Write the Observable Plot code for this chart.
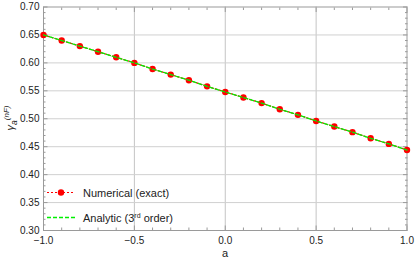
<!DOCTYPE html>
<html><head><meta charset="utf-8">
<script src="https://cdn.jsdelivr.net/npm/d3@7"></script>
<script src="https://cdn.jsdelivr.net/npm/@observablehq/plot@0.6"></script>
<style>body{margin:0;background:#fff}#chart{position:relative;width:415px;height:263px}</style>
</head><body><div id="chart"></div>
<script>
const aValues = [-1.0,-0.9,-0.8,-0.7,-0.6,-0.5,-0.4,-0.3,-0.2,-0.1,0.0,0.1,0.2,0.3,0.4,0.5,0.6,0.7,0.8,0.9,1.0];
const numerical = [0.650,0.640,0.630,0.620,0.610,0.600,0.589,0.579,0.569,0.558,0.548,0.538,0.528,0.517,0.507,0.496,0.486,0.476,0.465,0.455,0.444];
const analytic  = [0.650,0.640,0.630,0.620,0.610,0.600,0.589,0.579,0.569,0.558,0.548,0.538,0.528,0.517,0.507,0.496,0.486,0.476,0.465,0.455,0.444];
const xMajorTicks = [-1.0,-0.5,0.0,0.5,1.0];
const xMinorTicks = [-0.9,-0.8,-0.7,-0.6,-0.4,-0.3,-0.2,-0.1,0.1,0.2,0.3,0.4,0.6,0.7,0.8,0.9];
const yMajorTicks = [0.30,0.35,0.40,0.45,0.50,0.55,0.60,0.65,0.70];
const yMinorTicks = [0.31,0.32,0.33,0.34,0.36,0.37,0.38,0.39,0.41,0.42,0.43,0.44,0.46,0.47,0.48,0.49,0.51,0.52,0.53,0.54,0.56,0.57,0.58,0.59,0.61,0.62,0.63,0.64,0.66,0.67,0.68,0.69];
const xGrid = [-0.5,0.0,0.5];
const yGrid = [0.35,0.40,0.45,0.50,0.55,0.60,0.65];
const seriesNames = ["Numerical (exact)", "Analytic (3rd order)"];
const xLabel = "a";

const data = aValues.map((a,i) => ({a, num: numerical[i], ana: analytic[i]}));
const minus = s => s.replace("-", "\u2212");
const frameColor = "#9a9a9a";
const empty = () => "";
const green = "#00f000";
const red = "#ff0000";

const plot = Plot.plot({
  width: 415, height: 263,
  marginLeft: 43, marginRight: 8.5, marginTop: 6.5, marginBottom: 33,
  x: {domain: [-1, 1]},
  y: {domain: [0.3, 0.7]},
  style: {fontFamily: "'Liberation Sans', Arial, sans-serif", fontSize: "10px", color: "#222", background: "#fff"},
  marks: [
    Plot.gridX(xGrid, {stroke: "#c4c4c4", strokeOpacity: 1}),
    Plot.gridY(yGrid, {stroke: "#d0d0d0", strokeOpacity: 1}),
    Plot.frame({stroke: frameColor}),
    Plot.axisX(xMajorTicks, {anchor: "bottom", tickSize: 0, tickPadding: 6.5, tickFormat: d => minus(d.toFixed(1)), label: null, fill: "#222"}),
    Plot.axisY(yMajorTicks, {anchor: "left", tickSize: 0, tickPadding: 4, tickFormat: d => d.toFixed(2), label: null, fill: "#222"}),
    Plot.axisX(xMajorTicks, {anchor: "bottom", tickSize: -4.5, tickFormat: empty, label: null, stroke: frameColor}),
    Plot.axisX(xMajorTicks, {anchor: "top", tickSize: -4.5, tickFormat: empty, label: null, stroke: frameColor}),
    Plot.axisY(yMajorTicks, {anchor: "left", tickSize: -4.5, tickFormat: empty, label: null, stroke: frameColor}),
    Plot.axisY(yMajorTicks, {anchor: "right", tickSize: -4.5, tickFormat: empty, label: null, stroke: frameColor}),
    Plot.axisX(xMinorTicks, {anchor: "bottom", tickSize: -2.5, tickFormat: empty, label: null, stroke: frameColor}),
    Plot.axisX(xMinorTicks, {anchor: "top", tickSize: -2.5, tickFormat: empty, label: null, stroke: frameColor}),
    Plot.axisY(yMinorTicks, {anchor: "left", tickSize: -2.5, tickFormat: empty, label: null, stroke: frameColor}),
    Plot.axisY(yMinorTicks, {anchor: "right", tickSize: -2.5, tickFormat: empty, label: null, stroke: frameColor}),
    Plot.line(data, {x: "a", y: "num", stroke: red, strokeWidth: 1.2, strokeDasharray: "2,2"}),
    Plot.dot(data, {x: "a", y: "num", r: 3.2, fill: red, stroke: "none"}),
    Plot.line(data, {x: "a", y: "ana", stroke: green, strokeWidth: 1.3, strokeDasharray: "4,2"})
  ]
});
document.getElementById("chart").appendChild(plot);

const svg = d3.select(plot);
const font = "'Liberation Sans', Arial, sans-serif";
svg.append("text").attr("x", 225).attr("y", 257).attr("text-anchor", "middle")
  .attr("font-family", font).attr("font-size", 11).attr("fill", "#222").text(xLabel);
const yl = svg.append("text").attr("transform", "translate(14,118) rotate(-90)")
  .attr("text-anchor", "middle").attr("font-family", font).attr("font-size", 11).attr("fill", "#222");
yl.append("tspan").attr("font-style", "italic").text("\u03B3");
yl.append("tspan").attr("font-style", "italic").attr("font-size", 8.5).attr("dy", 3).text("a");
yl.append("tspan").attr("font-style", "italic").attr("font-size", 8).attr("dy", -8).text("(nF)");

const lg = svg.append("g").attr("font-family", font).attr("font-size", 11).attr("fill", "#222").attr("text-anchor", "start");
lg.append("line").attr("x1", 47).attr("x2", 75).attr("y1", 192.5).attr("y2", 192.5)
  .attr("stroke", red).attr("stroke-width", 1.2).attr("stroke-dasharray", "2,2");
lg.append("circle").attr("cx", 61).attr("cy", 192.5).attr("r", 3.2).attr("fill", red);
lg.append("text").attr("x", 83).attr("y", 196.5).attr("text-anchor", "start").text(seriesNames[0]);
lg.append("line").attr("x1", 47).attr("x2", 75).attr("y1", 217.5).attr("y2", 217.5)
  .attr("stroke", green).attr("stroke-dasharray", "4,2").attr("stroke-width", 1.3);
const t2 = lg.append("text").attr("x", 83).attr("y", 221.5).attr("text-anchor", "start");
t2.append("tspan").text("Analytic (3");
t2.append("tspan").attr("font-size", 7).attr("dy", -4).text("rd");
t2.append("tspan").attr("dy", 4).text(" order)");
</script></body></html>
